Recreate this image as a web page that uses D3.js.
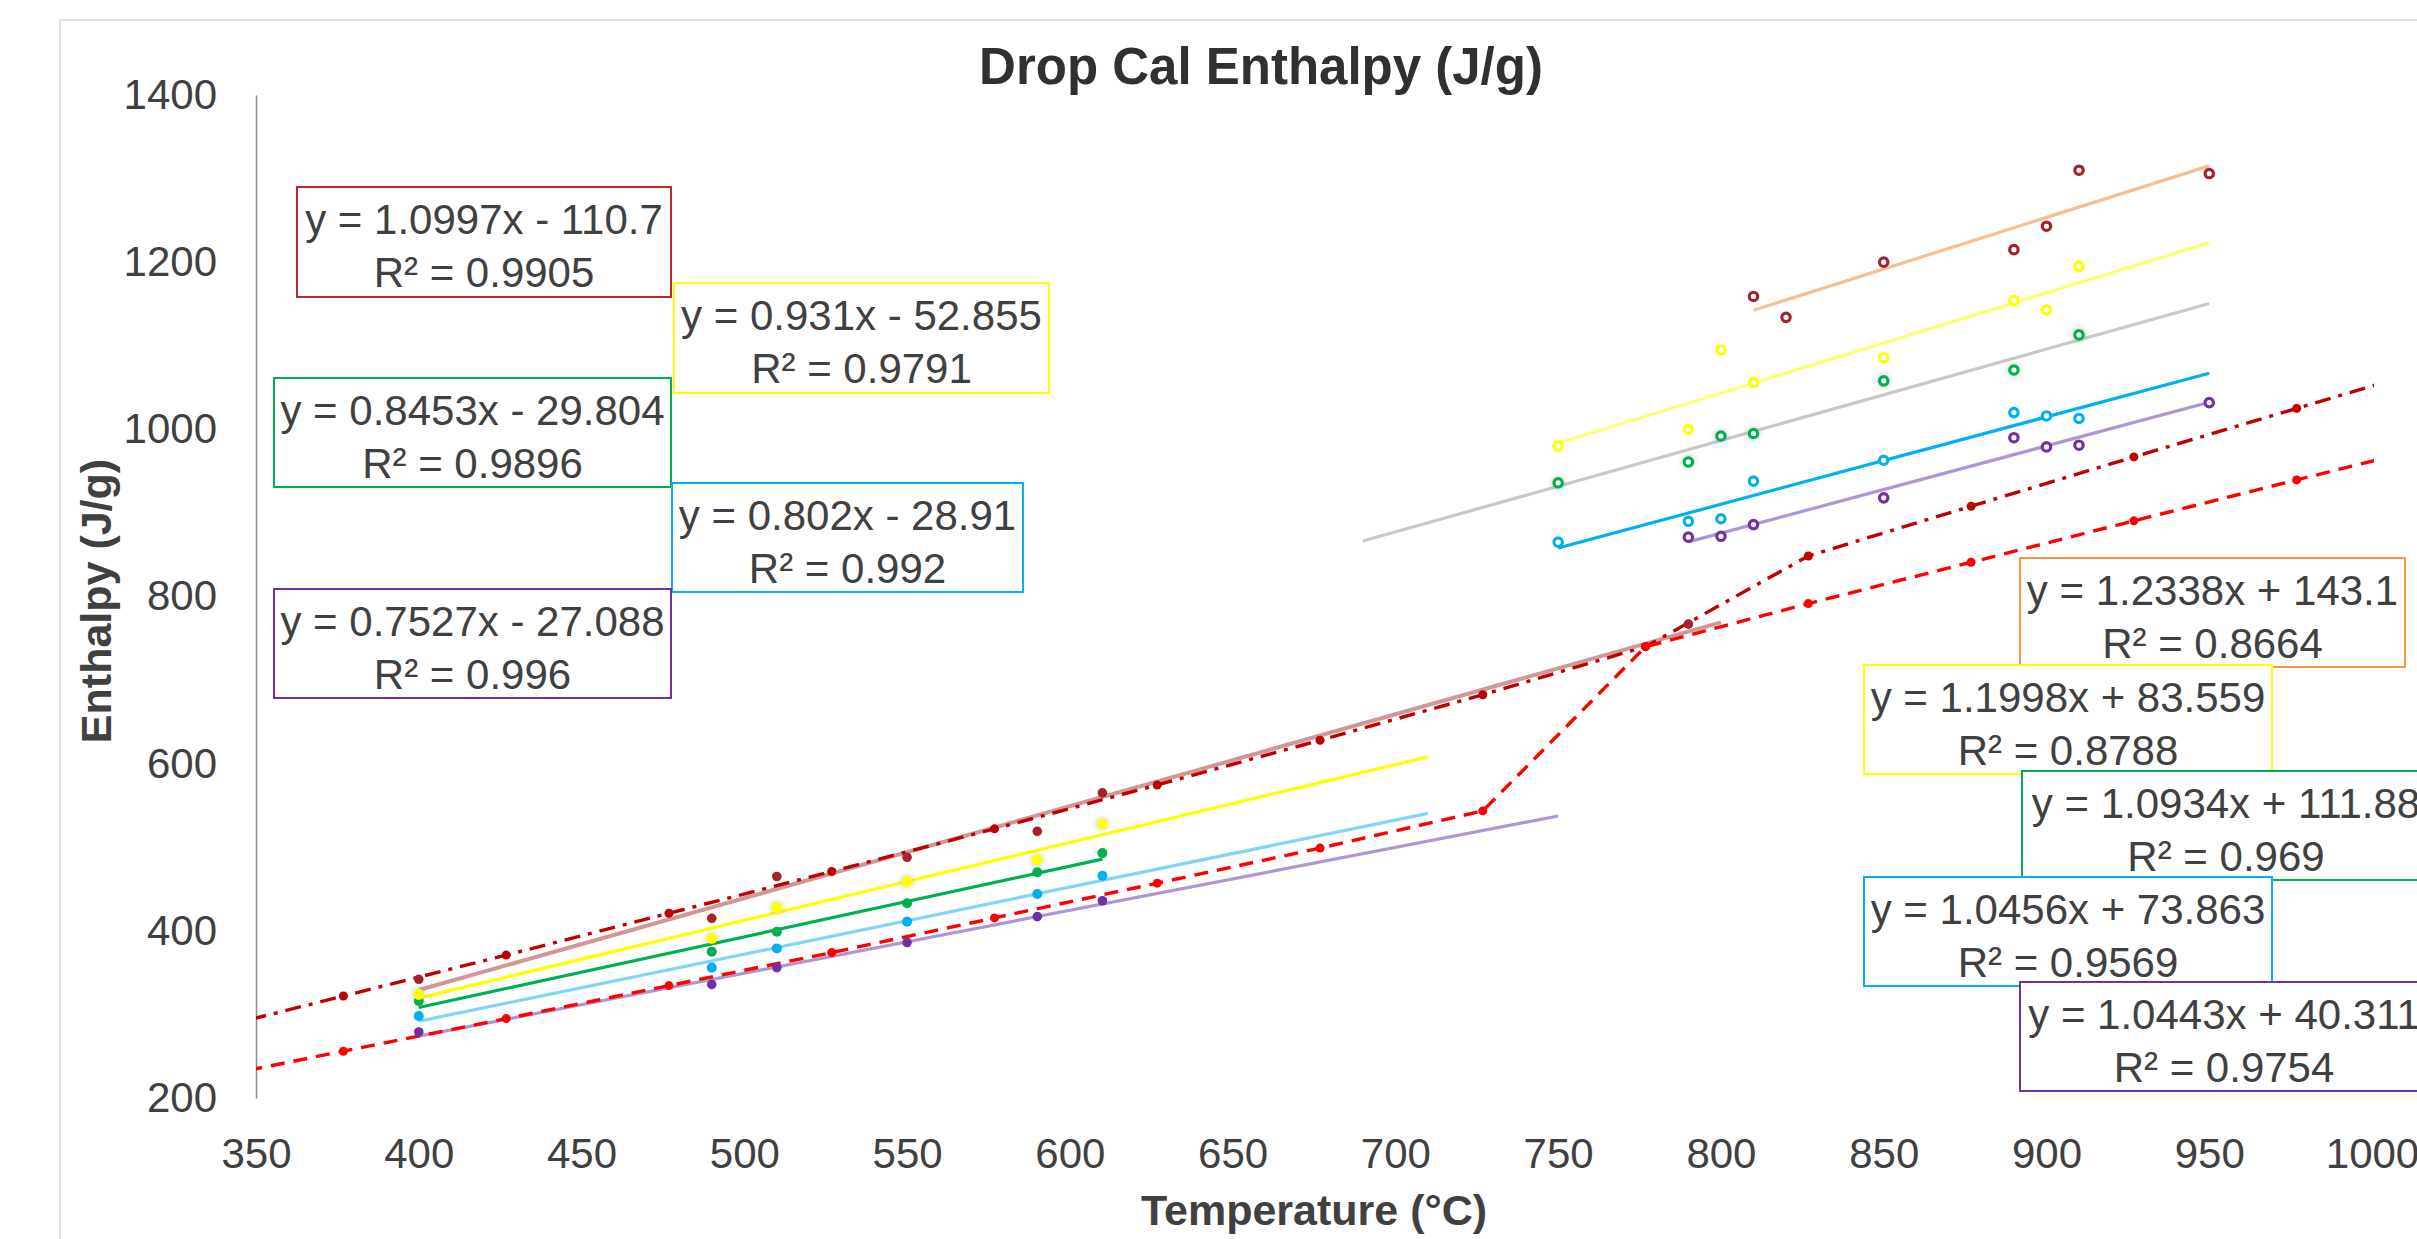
<!DOCTYPE html>
<html>
<head>
<meta charset="utf-8">
<script src="https://cdn.jsdelivr.net/npm/d3@7/dist/d3.min.js"></script>
<style>
    html, body { margin: 0; padding: 0; background: #fff; }
    svg { display: block; }
    text { font-family: 'Liberation Sans', Arial, sans-serif; fill: #404040; }
</style>
</head>
<body>
<div id="chart-container"></div>
<script>
const WIDTH = 2417;
const HEIGHT = 1239;
const PLOT = { left: 256, right: 2372, top: 95, bottom: 1098 };
const FONT_SIZE = 42;

// reference curves, one point every 50 K (plotted in °C)
const refTemps = [326.85, 376.85, 426.85, 476.85, 526.85, 576.85, 626.85, 676.85, 726.85, 776.85, 826.85, 876.85, 926.85, 976.85, 1026.85];
const refDashDot = [273, 322, 371, 421, 471, 522, 574.5, 628, 682.5, 740, 848.5, 908, 967, 1025, 1083];
const refDashed = [217, 256, 295, 334.5, 374, 415.5, 457, 499, 543.5, 740, 791.5, 841, 890.5, 939.5, 988];

// low temperature measurements (filled markers)
const lowTemps = [400, 490, 510, 550, 590, 610];
const darkRedTemps = [400, 490, 510, 550, 590, 610, 790];
const darkRedLow = [342, 415, 465, 488, 519, 565, 767];
const yellowLow = [324, 391, 428, 459, 485, 528];
const greenLow = [316, 375, 399, 433, 470, 493];
const blueLow = [298, 356, 379, 411, 444, 466];
const purpleLow = [279, 336, 356, 386, 417, 436];

// high temperature measurements (open markers)
const darkRedHighTemps = [810, 820, 850, 890, 900, 910, 950];
const darkRedHigh = [1159, 1134, 1200, 1215, 1243, 1310, 1306];
const yellowHighTemps = [750, 790, 800, 810, 850, 890, 900, 910];
const yellowHigh = [980, 1000, 1095, 1056, 1086, 1154, 1143, 1195];
const greenHighTemps = [750, 790, 800, 810, 850, 890, 910];
const greenHigh = [936, 961, 992, 995, 1058, 1071, 1113];
const blueHighTemps = [750, 790, 800, 810, 850, 890, 900, 910];
const blueHigh = [865, 890, 893, 938, 963, 1020, 1016, 1013];
const purpleHighTemps = [790, 800, 810, 850, 890, 900, 910, 950];
const purpleHigh = [871, 872, 886, 918, 990, 979, 981, 1032];

// linear trendlines
const trendSlopes = [1.0997, 0.931, 0.8453, 0.802, 0.7527, 1.2338, 1.1998, 1.0934, 1.0456, 1.0443];
const trendIntercepts = [-110.7, -52.855, -29.804, -28.91, -27.088, 143.1, 83.559, 111.88, 73.863, 40.311];
const trendR2 = [0.9905, 0.9791, 0.9896, 0.992, 0.996, 0.8664, 0.8788, 0.969, 0.9569, 0.9754];
const trendFrom = [400, 400, 400, 400, 400, 810, 750, 690, 750, 790];
const trendTo = [800, 710, 610, 710, 750, 950, 950, 950, 950, 950];

const xTicks = [350, 400, 450, 500, 550, 600, 650, 700, 750, 800, 850, 900, 950, 1000];
const yTicks = [200, 400, 600, 800, 1000, 1200, 1400];

// styling
const trendColors = ['#D39696', '#FFFF00', '#00B050', '#80D4F6', '#AE95D5', '#F7BF91', '#FFFF6E', '#C8C8C8', '#00B0F0', '#AE95D5'];
const boxColors = ['#C0272D', '#FFFF00', '#00B050', '#00B0F0', '#7030A0', '#F79646', '#FFFF00', '#00B050', '#00B0F0', '#7030A0'];
// equation label boxes (pixels): x, y, w, h
const labelBoxes = [
    [297, 187, 374, 110], [674, 283, 375, 110], [274, 378, 397, 109], [672, 483, 351, 109], [274, 589, 397, 109],
    [2020, 558, 385, 109], [1864, 665, 408, 109], [2022, 771, 408, 109], [1864, 877, 408, 109], [2020, 982, 408, 109],
];

const x = d3.scaleLinear().domain([350, 1000]).range([PLOT.left, PLOT.right]);
const y = d3.scaleLinear().domain([200, 1400]).range([PLOT.bottom, PLOT.top]);

const svg = d3
    .select('#chart-container')
    .append('svg')
    .attr('width', WIDTH)
    .attr('height', HEIGHT)
    .attr('viewBox', [0, 0, WIDTH, HEIGHT]);

const defs = svg.append('defs');
defs.append('clipPath')
    .attr('id', 'plot-clip')
    .append('rect')
    .attr('x', PLOT.left)
    .attr('y', PLOT.top - 20)
    .attr('width', PLOT.right - PLOT.left + 2)
    .attr('height', PLOT.bottom - PLOT.top + 20);

const glow = defs.append('filter').attr('id', 'glow').attr('x', '-150%').attr('y', '-150%').attr('width', '400%').attr('height', '400%');
glow.append('feGaussianBlur').attr('in', 'SourceAlpha').attr('stdDeviation', 3).attr('result', 'blur');
glow.append('feFlood').attr('flood-color', '#6d8c80').attr('flood-opacity', 0.55).attr('result', 'tint');
glow.append('feComposite').attr('in', 'tint').attr('in2', 'blur').attr('operator', 'in').attr('result', 'halo');
const merge = glow.append('feMerge');
merge.append('feMergeNode').attr('in', 'halo');
merge.append('feMergeNode').attr('in', 'SourceGraphic');

// chart area frame
svg.append('rect')
    .attr('x', 60)
    .attr('y', 20)
    .attr('width', 2600)
    .attr('height', 1400)
    .attr('fill', 'none')
    .attr('stroke', '#D9D9D9')
    .attr('stroke-width', 1.5);

svg.append('text')
    .attr('x', 1261)
    .attr('y', 84)
    .attr('text-anchor', 'middle')
    .attr('font-size', 51)
    .attr('font-weight', 'bold')
    .style('fill', '#303030')
    .text('Drop Cal Enthalpy (J/g)');

// axes
const yAxis = svg
    .append('g')
    .attr('transform', `translate(${PLOT.left},0)`)
    .call(d3.axisLeft(y).tickValues(yTicks).tickFormat(d3.format('d')).tickSize(0).tickSizeOuter(0).tickPadding(39));
yAxis.select('.domain').attr('stroke', '#8C8C8C').attr('stroke-width', 1.5);
yAxis.selectAll('text').attr('font-size', FONT_SIZE).attr('font-family', null).style('fill', '#404040');

const xAxis = svg
    .append('g')
    .attr('transform', `translate(0,${PLOT.bottom})`)
    .call(d3.axisBottom(x).tickValues(xTicks).tickFormat(d3.format('d')).tickSize(0).tickSizeOuter(0).tickPadding(40));
xAxis.select('.domain').remove();
xAxis.selectAll('text').attr('font-size', FONT_SIZE).attr('font-family', null).style('fill', '#404040');

svg.append('text')
    .attr('x', 1314)
    .attr('y', 1225)
    .attr('text-anchor', 'middle')
    .attr('font-size', 43)
    .attr('font-weight', 'bold')
    .text('Temperature (°C)');

svg.append('text')
    .attr('transform', 'translate(111,601) rotate(-90)')
    .attr('text-anchor', 'middle')
    .attr('font-size', 43)
    .attr('font-weight', 'bold')
    .text('Enthalpy (J/g)');

const plot = svg.append('g').attr('clip-path', 'url(#plot-clip)');

// trendlines
const trends = trendSlopes.map((m, i) => ({
    m,
    b: trendIntercepts[i],
    r2: trendR2[i],
    from: trendFrom[i],
    to: trendTo[i],
    color: trendColors[i],
}));
plot.append('g')
    .selectAll('line')
    .data(trends)
    .join('line')
    .attr('x1', (d) => x(d.from))
    .attr('y1', (d) => y(d.m * d.from + d.b))
    .attr('x2', (d) => x(d.to))
    .attr('y2', (d) => y(d.m * d.to + d.b))
    .attr('stroke', (d) => d.color)
    .attr('stroke-width', (d, i) => (i === 0 ? 4 : 3.2));

// reference curves
const refLine = d3
    .line()
    .x((d) => x(d[0]))
    .y((d) => y(d[1]));
const refs = [
    { values: refDashDot, color: '#C00000', dash: '16,8,4,8' },
    { values: refDashed, color: '#FF0000', dash: '14,9' },
];
refs.forEach((r) => {
    const pts = refTemps.map((t, i) => [t, r.values[i]]);
    plot.append('path')
        .attr('d', refLine(pts))
        .attr('fill', 'none')
        .attr('stroke', r.color)
        .attr('stroke-width', 3.4)
        .attr('stroke-dasharray', r.dash);
    plot.append('g')
        .selectAll('circle')
        .data(pts)
        .join('circle')
        .attr('cx', (d) => x(d[0]))
        .attr('cy', (d) => y(d[1]))
        .attr('r', 4.5)
        .attr('fill', r.color);
});

// measured points
const filledSeries = [
    { temps: darkRedTemps, values: darkRedLow, color: '#A5222B', r: 4.8 },
    { temps: lowTemps, values: purpleLow, color: '#7030A0', r: 4.8 },
    { temps: lowTemps, values: blueLow, color: '#00B0F0', r: 5 },
    { temps: lowTemps, values: greenLow, color: '#00B050', r: 5 },
    { temps: lowTemps, values: yellowLow, color: '#FFFF00', r: 5.5, glow: true },
];
filledSeries.forEach((s) => {
    plot.append('g')
        .attr('filter', s.glow ? 'url(#glow)' : null)
        .selectAll('circle')
        .data(s.values)
        .join('circle')
        .attr('cx', (d, i) => x(s.temps[i]))
        .attr('cy', (d) => y(d))
        .attr('r', s.r)
        .attr('fill', s.color);
});

const openSeries = [
    { temps: darkRedHighTemps, values: darkRedHigh, color: '#A5222B' },
    { temps: yellowHighTemps, values: yellowHigh, color: '#FFFF00' },
    { temps: greenHighTemps, values: greenHigh, color: '#00B050', glow: true },
    { temps: blueHighTemps, values: blueHigh, color: '#00B0F0' },
    { temps: purpleHighTemps, values: purpleHigh, color: '#7030A0' },
];
openSeries.forEach((s) => {
    plot.append('g')
        .attr('filter', s.glow ? 'url(#glow)' : null)
        .selectAll('circle')
        .data(s.values)
        .join('circle')
        .attr('cx', (d, i) => x(s.temps[i]))
        .attr('cy', (d) => y(d))
        .attr('r', 4.2)
        .attr('fill', '#FFFFFF')
        .attr('stroke', s.color)
        .attr('stroke-width', 3.2);
});

// equation labels
const fmtEq = (d) => `y = ${d.m}x ${d.b < 0 ? '-' : '+'} ${Math.abs(d.b)}`;
const label = svg
    .append('g')
    .selectAll('g')
    .data(trends)
    .join('g')
    .attr('transform', (d, i) => `translate(${labelBoxes[i][0]},${labelBoxes[i][1]})`);
label.append('rect')
    .attr('width', (d, i) => labelBoxes[i][2])
    .attr('height', (d, i) => labelBoxes[i][3])
    .attr('fill', '#FFFFFF')
    .attr('stroke', (d, i) => boxColors[i])
    .attr('stroke-width', 2);
label.append('text')
    .attr('x', (d, i) => labelBoxes[i][2] / 2)
    .attr('y', 47)
    .attr('text-anchor', 'middle')
    .attr('font-size', FONT_SIZE)
    .text(fmtEq);
label.append('text')
    .attr('x', (d, i) => labelBoxes[i][2] / 2)
    .attr('y', 100)
    .attr('text-anchor', 'middle')
    .attr('font-size', FONT_SIZE)
    .text((d) => `R² = ${d.r2}`);
</script>
</body>
</html>
